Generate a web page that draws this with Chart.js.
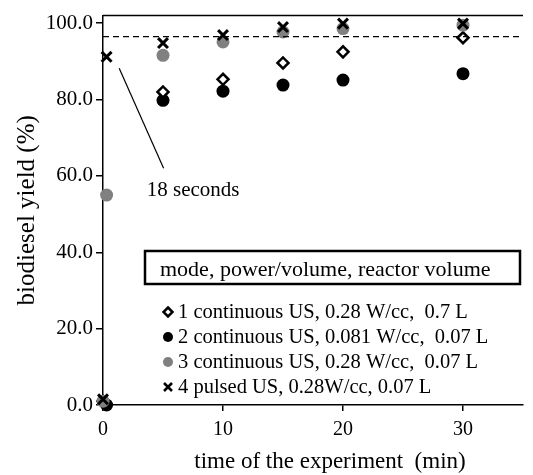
<!DOCTYPE html>
<html>
<head>
<meta charset="utf-8">
<script src="https://cdn.jsdelivr.net/npm/chart.js@4.4.1/dist/chart.umd.min.js"></script>
<style>
  html, body { margin: 0; padding: 0; background: #fff; }
  #wrap { width: 533px; height: 475px; position: relative; }
</style>
</head>
<body>
<div id="wrap"><canvas id="yieldChart" width="533" height="475"></canvas></div>
<script>
// time in minutes, yield in %
const s1Time = [0, 5, 10, 15, 20, 30];
const s1Yield = [1.0, 82.0, 85.3, 89.6, 92.5, 96.2];
const s2Time = [0.3, 5, 10, 15, 20, 30];
const s2Yield = [0, 79.8, 82.2, 83.8, 85.1, 86.8];
const s3Time = [0, 0.3, 5, 10, 15, 20, 30];
const s3Yield = [1.0, 55.0, 91.6, 95.1, 97.7, 98.6, 99.5];
const s4Time = [0, 0.3, 5, 10, 15, 20, 30];
const s4Yield = [1.5, 91.2, 94.8, 96.9, 99.0, 99.9, 99.9];

const seriesLabels = [
  '1 continuous US, 0.28 W/cc,  0.7 L',
  '2 continuous US, 0.081 W/cc,  0.07 L',
  '3 continuous US, 0.28 W/cc,  0.07 L',
  '4 pulsed US, 0.28W/cc, 0.07 L'
];
const legendTitle = 'mode, power/volume, reactor volume';
const xTitle = 'time of the experiment  (min)';
const targetYield = 96.5;
const yTicks = [0, 20, 40, 60, 80, 100];
const xTicks = [0, 10, 20, 30];

const serif = '"Liberation Serif", "Times New Roman", serif';

function pts(xs, ys) {
  return xs.map((x, i) => ({ x: x, y: ys[i] }));
}

// top frame, dashed target line, "18 seconds" callout, x title and the legend
const extras = {
  id: 'extras',
  afterDatasetsDraw(chart) {
    const ctx = chart.ctx;
    const area = chart.chartArea;
    const xs = chart.scales.x;
    const ys = chart.scales.y;
    ctx.save();
    ctx.strokeStyle = '#000';
    ctx.lineWidth = 1.5;
    ctx.beginPath();
    ctx.moveTo(area.left, area.top);
    ctx.lineTo(area.right, area.top);
    ctx.stroke();

    const yt = ys.getPixelForValue(targetYield);
    ctx.lineWidth = 1.3;
    ctx.setLineDash([6, 4]);
    ctx.beginPath();
    ctx.moveTo(area.left, yt);
    ctx.lineTo(area.right, yt);
    ctx.stroke();
    ctx.setLineDash([]);

    ctx.lineWidth = 1.2;
    ctx.beginPath();
    ctx.moveTo(xs.getPixelForValue(1.35), ys.getPixelForValue(88.2));
    ctx.lineTo(xs.getPixelForValue(5.05), ys.getPixelForValue(62.0));
    ctx.stroke();
    ctx.fillStyle = '#000';
    ctx.font = '21px ' + serif;
    ctx.textBaseline = 'middle';
    ctx.fillText('18 seconds', xs.getPixelForValue(3.65), ys.getPixelForValue(56.3));

    // x axis title, a bit right of the plot centre as in the original
    ctx.font = '23px ' + serif;
    ctx.textAlign = 'center';
    ctx.fillText(xTitle, 330, 462);
    ctx.textAlign = 'left';

    // legend
    ctx.lineWidth = 2.5;
    ctx.strokeRect(145, 251, 375, 33);
    ctx.font = '22px ' + serif;
    ctx.fillText(legendTitle, 160, 270);
    const rowY = [312, 337, 362, 387];
    ctx.font = '20.5px ' + serif;
    seriesLabels.forEach((t, i) => {
      const y = rowY[i];
      const mx = 168;
      if (i === 0) {
        ctx.lineWidth = 2.5;
        ctx.fillStyle = '#fff';
        ctx.beginPath();
        ctx.moveTo(mx, y - 4.5); ctx.lineTo(mx + 4.5, y);
        ctx.lineTo(mx, y + 4.5); ctx.lineTo(mx - 4.5, y);
        ctx.closePath();
        ctx.fill(); ctx.stroke();
      } else if (i === 1 || i === 2) {
        ctx.fillStyle = i === 1 ? '#000' : '#808080';
        ctx.beginPath();
        ctx.arc(mx, y, 5, 0, Math.PI * 2);
        ctx.fill();
      } else {
        ctx.lineWidth = 2.5;
        ctx.beginPath();
        ctx.moveTo(mx - 4, y - 4); ctx.lineTo(mx + 4, y + 4);
        ctx.moveTo(mx + 4, y - 4); ctx.lineTo(mx - 4, y + 4);
        ctx.stroke();
      }
      ctx.fillStyle = '#000';
      ctx.fillText(t, 178, y + 1);
    });
    ctx.restore();
  }
};

new Chart(document.getElementById('yieldChart'), {
  type: 'scatter',
  data: {
    datasets: [
      { label: seriesLabels[3], data: pts(s4Time, s4Yield), pointStyle: 'crossRot', pointRadius: 7,
        borderColor: '#000', borderWidth: 3, order: 0, clip: false },
      { label: seriesLabels[2], data: pts(s3Time, s3Yield), pointStyle: 'circle', pointRadius: 6.5,
        backgroundColor: '#808080', borderColor: '#808080', borderWidth: 0, order: 1, clip: false },
      { label: seriesLabels[0], data: pts(s1Time, s1Yield), pointStyle: 'rectRot', pointRadius: 5.5,
        backgroundColor: '#fff', borderColor: '#000', borderWidth: 2.5, order: 2, clip: false },
      { label: seriesLabels[1], data: pts(s2Time, s2Yield), pointStyle: 'circle', pointRadius: 6.5,
        backgroundColor: '#000', borderColor: '#000', borderWidth: 0, order: 3, clip: false }
    ]
  },
  options: {
    responsive: false,
    animation: false,
    layout: { padding: { top: 15, right: 0, bottom: 0, left: 0 } },
    plugins: { legend: { display: false }, tooltip: { enabled: false } },
    scales: {
      x: {
        type: 'linear', min: 0, max: 35,
        afterBuildTicks: s => { s.ticks = xTicks.map(v => ({ value: v })); },
        afterFit: s => { s.height = 70; },
        border: { color: '#000', width: 1.5 },
        grid: { drawOnChartArea: false, drawTicks: true, tickLength: 6, color: '#000', lineWidth: 1.5 },
        ticks: { color: '#000', padding: 7, font: { family: serif, size: 20 } },
        title: { display: false }
      },
      y: {
        type: 'linear', min: 0, max: 102,
        afterBuildTicks: s => { s.ticks = yTicks.map(v => ({ value: v })); },
        afterFit: s => { s.width = 103; },
        border: { color: '#000', width: 1.5 },
        grid: { drawOnChartArea: false, drawTicks: true, tickLength: 7, color: '#000', lineWidth: 1.5 },
        ticks: { color: '#000', padding: 3, font: { family: serif, size: 21 },
                 callback: v => v.toFixed(1) },
        title: { display: true, text: 'biodiesel yield (%)', color: '#000',
                 font: { family: serif, size: 25 }, padding: { top: 12, bottom: 0 } }
      }
    }
  },
  plugins: [extras]
});
</script>
</body>
</html>
